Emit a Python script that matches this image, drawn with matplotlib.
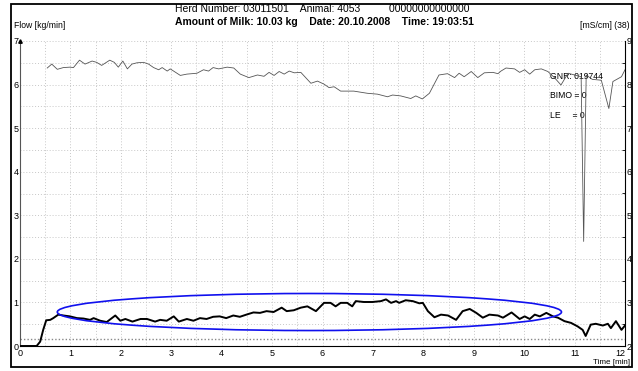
import matplotlib

matplotlib.use("Agg")
import matplotlib.pyplot as plt
from matplotlib.patches import Ellipse, Rectangle

plt.rcParams["font.family"] = ["Liberation Sans", "DejaVu Sans"]

# 流量曲线 (kg/min)
flow_t = [0, 0.33, 0.40, 0.46, 0.52, 0.60, 0.66, 0.76, 0.86, 0.99,
          1.13, 1.26, 1.39, 1.46, 1.59, 1.72, 1.89, 1.99, 2.09, 2.23,
          2.39, 2.52, 2.68, 2.78, 2.91, 3.05, 3.15, 3.31, 3.44, 3.57,
          3.70, 3.83, 3.96, 4.09, 4.23, 4.36, 4.49, 4.63, 4.76, 4.89,
          5.03, 5.19, 5.29, 5.43, 5.57, 5.70, 5.87, 6.03, 6.16, 6.26,
          6.36, 6.49, 6.59, 6.66, 6.82, 6.99, 7.16, 7.26, 7.36, 7.46,
          7.52, 7.65, 7.79, 7.92, 7.99, 8.09, 8.22, 8.35, 8.49, 8.65,
          8.78, 8.92, 9.05, 9.18, 9.31, 9.48, 9.58, 9.75, 9.91, 10.01,
          10.11, 10.21, 10.31, 10.44, 10.57, 10.67, 10.80, 10.93, 11.06, 11.16,
          11.22, 11.32, 11.42, 11.56, 11.66, 11.72, 11.82, 11.93, 12.0]
flow_v = [0, 0, 0.10, 0.37, 0.59, 0.60, 0.64, 0.72, 0.70, 0.68,
          0.64, 0.63, 0.60, 0.64, 0.58, 0.55, 0.70, 0.58, 0.62, 0.56,
          0.62, 0.62, 0.56, 0.60, 0.58, 0.68, 0.56, 0.62, 0.58, 0.64,
          0.62, 0.67, 0.68, 0.64, 0.70, 0.67, 0.72, 0.77, 0.76, 0.80,
          0.78, 0.88, 0.80, 0.82, 0.88, 0.91, 0.80, 0.99, 0.99, 0.91,
          0.99, 0.99, 0.91, 1.03, 1.01, 1.01, 1.03, 1.07, 0.99, 1.03,
          0.99, 1.05, 1.03, 0.98, 0.99, 0.80, 0.66, 0.72, 0.70, 0.60,
          0.80, 0.85, 0.76, 0.65, 0.72, 0.70, 0.65, 0.77, 0.62, 0.68,
          0.62, 0.72, 0.68, 0.76, 0.68, 0.65, 0.57, 0.53, 0.45, 0.37,
          0.23, 0.49, 0.51, 0.47, 0.51, 0.41, 0.57, 0.37, 0.47]

# 电导率曲线 (mS/cm)
cond_t = [0.54, 0.63, 0.74, 0.86, 0.99, 1.06, 1.18, 1.29, 1.43, 1.52,
          1.62, 1.78, 1.87, 1.95, 2.04, 2.13, 2.22, 2.32, 2.45, 2.55,
          2.65, 2.75, 2.82, 2.92, 2.98, 3.18, 3.31, 3.51, 3.64, 3.74,
          3.83, 3.94, 4.11, 4.24, 4.37, 4.54, 4.71, 4.84, 4.94, 5.04,
          5.14, 5.24, 5.34, 5.44, 5.57, 5.77, 5.90, 6.03, 6.13, 6.23,
          6.36, 6.62, 6.89, 7.09, 7.29, 7.39, 7.55, 7.75, 7.85, 7.98,
          8.12, 8.31, 8.48, 8.62, 8.71, 8.81, 8.95, 9.08, 9.21, 9.38,
          9.48, 9.54, 9.64, 9.81, 9.91, 10.01, 10.11, 10.21, 10.34, 10.47,
          10.60, 10.73, 10.87, 11.00, 11.13, 11.18, 11.23, 11.35, 11.53, 11.68,
          11.76, 11.93, 12.0]
cond_v = [8.38, 8.47, 8.35, 8.39, 8.40, 8.39, 8.56, 8.47, 8.54, 8.51,
          8.44, 8.56, 8.51, 8.40, 8.54, 8.36, 8.47, 8.50, 8.51, 8.47,
          8.39, 8.34, 8.39, 8.31, 8.36, 8.21, 8.24, 8.26, 8.34, 8.31,
          8.39, 8.36, 8.40, 8.38, 8.24, 8.16, 8.22, 8.19, 8.28, 8.21,
          8.30, 8.24, 8.31, 8.27, 8.28, 8.03, 8.08, 8.01, 7.93, 7.95,
          7.85, 7.85, 7.80, 7.78, 7.72, 7.76, 7.74, 7.68, 7.74, 7.67,
          7.80, 8.22, 8.25, 8.16, 8.26, 8.18, 8.30, 8.16, 8.27, 8.28,
          8.25, 8.31, 8.38, 8.36, 8.28, 8.34, 8.24, 8.34, 8.36, 8.30,
          8.16, 7.99, 8.26, 8.22, 8.18, 4.40, 8.22, 8.12, 8.10, 7.45,
          8.07, 8.18, 8.34]

x_ticks = list(range(0, 13))
flow_ticks = list(range(0, 8))
cond_ticks = list(range(2, 10))

header_1 = "Herd Number: 03011501    Animal: 4053          00000000000000"
header_2 = "Amount of Milk: 10.03 kg    Date: 20.10.2008    Time: 19:03:51"
info_lines = ["GNR: 019744", "BIMO = 0", "LE     = 0"]

W, H = 638, 371
fig = plt.figure(figsize=(W / 100, H / 100), dpi=100)
fig.patch.set_facecolor("white")

# 外框
fig.patches.append(Rectangle((11 / W, 4 / H), 621 / W, 363 / H, transform=fig.transFigure,
                             fill=False, edgecolor="black", linewidth=1.3))

ax = fig.add_axes([20 / W, 25 / H, 605 / W, 305 / H])
ax.set_xlim(0, 12)
ax.set_ylim(0, 7)

# 网格线 (每0.5一格)
for gx in [i * 0.5 for i in range(1, 24)]:
    ax.axvline(gx, color="#c8c8c8", linestyle=(0, (1, 2)), linewidth=0.7, zorder=0)
for gy in [i * 0.5 for i in range(1, 15)]:
    ax.axhline(gy, color="#c8c8c8", linestyle=(0, (1, 2)), linewidth=0.7, zorder=0)
ax.axhline(0.17, color="#888888", linestyle=(0, (1, 1.5)), linewidth=1.0, zorder=0)

ax.plot(flow_t, flow_v, color="black", linewidth=1.4, zorder=3)

# 流量平台区域标记
ax.add_patch(Ellipse((5.74, 0.78), 10.0, 0.85, fill=False, edgecolor="#1010ee",
                     linewidth=1.2, zorder=4))

ax.set_xticks(x_ticks)
ax.set_yticks(flow_ticks)
ax.tick_params(axis="x", length=0, labelsize=6.5, pad=2.5)
ax.tick_params(axis="y", length=0, labelsize=6.5, pad=1)
# 最后一个刻度标签靠左放，避开右轴的 "2"
ax.get_xticklabels()[-1].set_horizontalalignment("right")
for s in ["top", "right"]:
    ax.spines[s].set_visible(False)
ax.spines["left"].set_linewidth(0.8)
ax.spines["bottom"].set_linewidth(0.8)
ax.spines["left"].set_color("#555555")
ax.plot(0, 7, marker="^", markersize=2.5, color="black", clip_on=False, zorder=5)

# 右侧电导率坐标轴
ax2 = ax.twinx()
ax2.set_ylim(2, 9)
ax2.plot(cond_t, cond_v, color="#555555", linewidth=0.6, zorder=2)
ax2.set_yticks(cond_ticks)
ax2.set_yticks([v + 0.5 for v in cond_ticks[:-1]], minor=True)
ax2.tick_params(axis="y", which="major", direction="in", length=0, labelsize=6.5, pad=1)
ax2.tick_params(axis="y", which="minor", direction="in", length=2.5, width=0.6)
for s in ["top", "left", "bottom"]:
    ax2.spines[s].set_visible(False)
ax2.spines["right"].set_linewidth(0.8)

for i, line in enumerate(info_lines):
    ax.text(10.52, 6.18 - i * 0.44, line, fontsize=6.2, va="center", ha="left", zorder=6)

# 标题与坐标轴说明
fig.text(175 / W, 1 - 9 / H, header_1, fontsize=7.5, ha="left", va="center")
fig.text(175 / W, 1 - 22 / H, header_2, fontsize=7.5, fontweight="bold", ha="left", va="center")
fig.text(14 / W, 1 - 25 / H, "Flow [kg/min]", fontsize=6.2, ha="left", va="center")
fig.text(630 / W, 1 - 25 / H, "[mS/cm] (38)", fontsize=6.2, ha="right", va="center")
fig.text(630 / W, 1 - 363 / H, "Time [min]", fontsize=5.8, ha="right", va="center")

fig.savefig("out.png", dpi=100)
